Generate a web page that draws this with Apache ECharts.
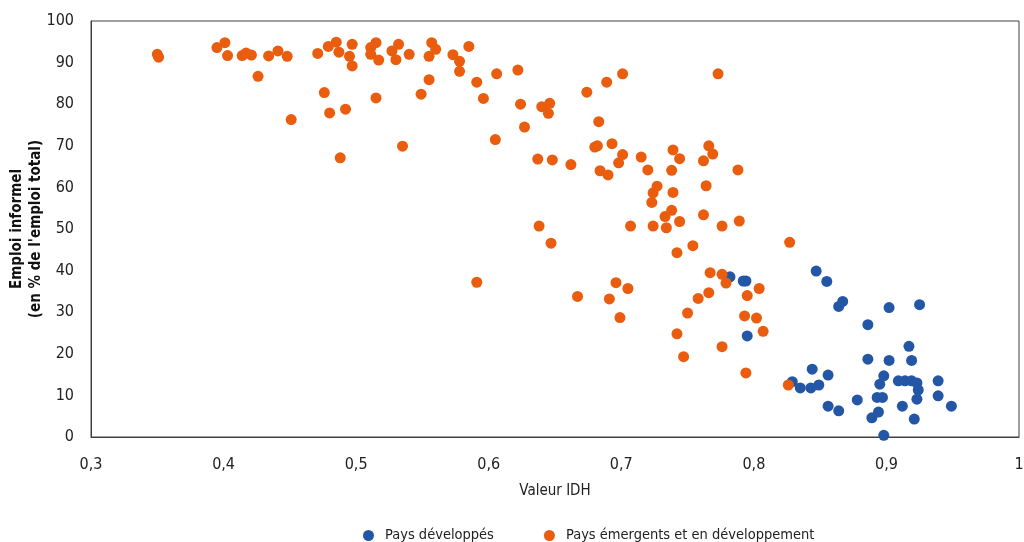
<!DOCTYPE html>
<html><head><meta charset="utf-8">
<script src="https://cdn.jsdelivr.net/npm/echarts@6/dist/echarts.min.js"></script>
<style>html,body{margin:0;padding:0;background:#fff}#c{width:1024px;height:542px}</style>
</head><body><div id="c"></div>
<script>
const seriesNames = ["Pays développés", "Pays émergents et en développement"];
const xTicks = {min: 0.3, max: 1, interval: 0.1};
const yTicks = {min: 0, max: 100, interval: 10};
const developed = [
[0.782,38.5],[0.792,37.5],[0.794,37.5],[0.795,24.3],[0.829,13.3],[0.835,11.8],[0.843,11.8],[0.844,16.3],
[0.847,39.9],[0.849,12.5],[0.855,37.4],[0.856,14.9],[0.856,7.4],[0.864,31.4],[0.867,32.6],[0.864,6.3],
[0.878,8.9],[0.886,27.0],[0.886,18.7],[0.889,4.6],[0.893,9.5],[0.894,6.0],[0.895,12.7],[0.897,9.5],
[0.898,14.7],[0.898,0.4],[0.902,31.1],[0.902,18.4],[0.909,13.5],[0.912,7.4],[0.914,13.5],[0.917,21.8],
[0.919,18.4],[0.919,13.5],[0.921,4.3],[0.923,13.0],[0.923,9.1],[0.924,11.3],[0.925,31.8],[0.939,13.5],
[0.939,9.9],[0.949,7.4]
];
const emerging = [
[0.350,92.0],[0.351,91.3],[0.395,93.6],[0.401,94.8],[0.403,91.7],[0.414,91.7],[0.417,92.3],[0.421,91.8],
[0.426,86.7],[0.434,91.6],[0.441,92.8],[0.448,91.5],[0.451,76.3],[0.471,92.2],[0.476,82.8],[0.479,93.9],
[0.480,77.9],[0.485,94.9],[0.487,92.5],[0.488,67.1],[0.492,78.8],[0.495,91.5],[0.497,94.4],[0.497,89.2],
[0.511,93.6],[0.511,92.0],[0.515,94.8],[0.515,81.5],[0.517,90.6],[0.527,92.8],[0.530,90.7],[0.532,94.4],
[0.535,69.9],[0.540,92.0],[0.549,82.4],[0.555,91.5],[0.555,85.9],[0.557,94.8],[0.560,93.2],[0.573,91.9],
[0.578,90.3],[0.578,87.9],[0.585,93.9],[0.591,85.3],[0.591,37.2],[0.596,81.4],[0.605,71.5],[0.606,87.3],
[0.622,88.2],[0.624,80.0],[0.627,74.5],[0.637,66.8],[0.638,50.7],[0.640,79.4],[0.645,77.8],[0.646,80.2],
[0.647,46.6],[0.648,66.6],[0.662,65.5],[0.667,33.8],[0.674,82.9],[0.680,69.7],[0.682,70.0],[0.683,75.8],
[0.684,64.0],[0.689,85.3],[0.690,63.0],[0.691,33.2],[0.693,70.5],[0.696,37.1],[0.698,65.9],[0.699,28.7],
[0.701,67.9],[0.701,87.3],[0.705,35.7],[0.707,50.7],[0.715,67.3],[0.720,64.2],[0.723,56.4],[0.724,58.7],
[0.724,50.7],[0.727,60.3],[0.733,53.0],[0.734,50.3],[0.738,64.1],[0.738,54.5],[0.739,58.8],[0.739,69.0],
[0.742,44.3],[0.742,24.8],[0.744,66.9],[0.744,51.8],[0.747,19.3],[0.750,29.8],[0.754,46.0],[0.758,33.3],
[0.762,66.4],[0.762,53.4],[0.764,60.4],[0.766,70.0],[0.766,34.7],[0.767,39.5],[0.769,68.0],[0.773,87.3],
[0.776,50.7],[0.776,39.1],[0.776,21.7],[0.779,37.0],[0.788,64.2],[0.789,51.9],[0.793,29.1],[0.794,15.4],
[0.795,34.0],[0.802,28.6],[0.804,35.7],[0.807,25.4],[0.826,12.5],[0.827,46.8]
];
const FONT = '"Liberation Sans Narrow", "DejaVu Sans Condensed", sans-serif';
const BLUE = '#2357a6', ORANGE = '#ea5c0e';
const chart = echarts.init(document.getElementById('c'), null, {renderer: 'canvas'});
chart.setOption({
  animation: false,
  textStyle: {fontFamily: FONT},
  grid: {left: 91, right: 5, top: 21, bottom: 105, show: true, borderColor: '#404040', borderWidth: 1,
    backgroundColor: 'transparent', containLabel: false, outerBoundsMode: 'none'},
  legend: {
    bottom: -6, left: 358, itemGap: 50, itemWidth: 11, itemHeight: 11, icon: 'circle',
    textStyle: {fontFamily: FONT, fontSize: 14.5, color: '#222', padding: [0, 0, 0, 6]},
    data: seriesNames
  },
  xAxis: {
    type: 'value', min: xTicks.min, max: xTicks.max, interval: xTicks.interval,
    name: 'Valeur IDH', nameLocation: 'middle', nameGap: 47,
    nameTextStyle: {fontFamily: FONT, fontSize: 15, color: '#222'},
    axisLine: {show: true, lineStyle: {color: '#404040'}}, axisTick: {show: false},
    splitLine: {show: false},
    axisLabel: {margin: 20, fontFamily: FONT, fontSize: 16, color: '#222',
      formatter: v => (Math.round(v*10)/10).toString().replace('.', ',')}
  },
  yAxis: {
    type: 'value', min: yTicks.min, max: yTicks.max, interval: yTicks.interval,
    name: 'Emploi informel\n(en % de l\'emploi total)', nameLocation: 'middle', nameGap: 45, nameRotate: 90,
    nameMoveOverlap: false,
    nameTextStyle: {fontFamily: FONT, fontSize: 15, fontWeight: 'bold', color: '#111', lineHeight: 19},
    axisLine: {show: true, lineStyle: {color: '#404040'}}, axisTick: {show: false},
    splitLine: {show: false},
    axisLabel: {margin: 17, fontFamily: FONT, fontSize: 16, color: '#222'}
  },
  series: [
    {name: seriesNames[0], type: 'scatter', data: developed, symbolSize: 11, itemStyle: {color: BLUE, opacity: 1}},
    {name: seriesNames[1], type: 'scatter', data: emerging, symbolSize: 11, itemStyle: {color: ORANGE, opacity: 1}}
  ]
});
</script></body></html>
